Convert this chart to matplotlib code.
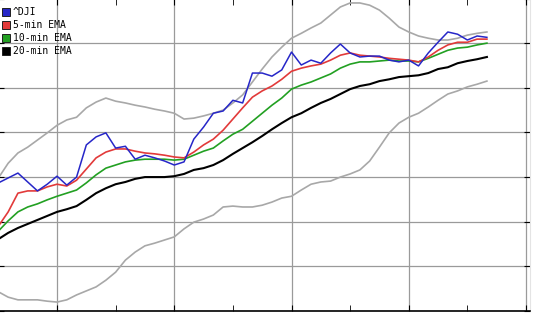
import matplotlib
matplotlib.use("Agg")
import matplotlib.pyplot as plt
import numpy as np
from matplotlib.lines import Line2D
from matplotlib.ticker import MultipleLocator

# 5-minute samples, minutes from the first hour mark
minutes = np.arange(-30, 221, 5)

# points above 10400
dji = [28.7, 29.8, 30.9, 28.9, 26.9, 28.4, 30.2, 28.2, 30.0, 37.2,
       39.0, 39.9, 36.5, 36.9, 34.0, 34.9, 34.3, 33.6, 32.7, 33.4,
       38.5, 41.2, 44.3, 44.8, 47.2, 46.6, 53.3, 53.3, 52.6, 54.0,
       58.0, 55.1, 56.2, 55.5, 57.8, 59.8, 57.8, 56.9, 57.1, 57.1,
       56.2, 55.8, 56.2, 54.9, 57.8, 60.2, 62.5, 62.0, 60.7, 61.6, 61.3]
ema5 = [19.0, 22.2, 26.4, 26.9, 26.9, 27.8, 28.4, 28.0, 29.3, 31.8,
        34.3, 35.6, 36.3, 36.3, 35.8, 35.4, 35.2, 34.9, 34.5, 34.3,
        35.6, 37.2, 38.5, 40.5, 43.0, 45.5, 47.9, 49.3, 50.4, 51.9,
        53.7, 54.4, 54.9, 55.3, 56.2, 57.3, 57.8, 57.3, 57.1, 56.9,
        56.6, 56.4, 56.2, 55.8, 56.9, 58.4, 59.6, 60.2, 60.2, 60.9, 60.9]
ema10 = [17.9, 20.2, 22.2, 23.3, 24.0, 24.9, 25.7, 26.4, 27.1, 28.7,
         30.5, 32.0, 32.7, 33.4, 33.8, 34.0, 34.0, 34.0, 33.8, 34.0,
         34.9, 35.8, 36.5, 38.1, 39.6, 40.7, 42.5, 44.3, 46.1, 47.7,
         49.7, 50.6, 51.3, 52.2, 53.1, 54.4, 55.3, 55.8, 55.8, 56.0,
         56.2, 56.0, 56.0, 55.8, 56.6, 57.5, 58.4, 58.9, 59.1, 59.6, 60.0]
ema20 = [16.1, 17.5, 18.6, 19.5, 20.4, 21.3, 22.2, 22.8, 23.5, 24.9,
         26.4, 27.5, 28.4, 28.9, 29.6, 30.0, 30.0, 30.0, 30.2, 30.7,
         31.6, 32.0, 32.7, 33.8, 35.2, 36.5, 37.8, 39.2, 40.7, 42.1,
         43.4, 44.3, 45.5, 46.6, 47.5, 48.6, 49.7, 50.4, 50.8, 51.5,
         51.9, 52.4, 52.6, 52.8, 53.3, 54.2, 54.6, 55.5, 56.0, 56.4, 56.9]
upper = [29.8, 33.1, 35.4, 36.7, 38.3, 39.9, 41.6, 42.8, 43.4, 45.5,
         46.8, 47.7, 47.0, 46.6, 46.1, 45.7, 45.2, 44.8, 44.3, 43.0,
         43.2, 43.7, 44.3, 45.0, 46.6, 48.4, 51.3, 54.2, 56.9, 59.1,
         61.1, 62.2, 63.4, 64.5, 66.3, 68.1, 69.0, 69.0, 68.5, 67.4,
         65.6, 63.6, 62.5, 61.6, 61.1, 60.7, 60.7, 61.1, 61.8, 62.2, 62.5]
lower = [4.3, 3.1, 2.5, 2.5, 2.5, 2.2, 2.0, 2.5, 3.6, 4.5,
         5.4, 6.9, 8.7, 11.4, 13.2, 14.6, 15.2, 15.9, 16.6, 18.4,
         19.9, 20.6, 21.5, 23.3, 23.5, 23.3, 23.3, 23.7, 24.4, 25.3,
         25.7, 27.1, 28.4, 28.9, 29.1, 30.0, 30.7, 31.6, 33.6, 36.7,
         39.9, 42.1, 43.4, 44.3, 45.7, 47.2, 48.6, 49.3, 50.2, 50.8, 51.5]

labels = ["^DJI", "5-min EMA", "10-min EMA", "20-min EMA"]
colors = ["#2626c8", "#e23a3a", "#22a022", "#000000"]

fig = plt.figure(figsize=(5.39, 3.18), dpi=100)
ax = fig.add_axes([-1.6 / 539, 7 / 318, 531.5 / 539, 312.5 / 318])

ax.plot(minutes, upper, color="#a8a8a8", lw=1.2)
ax.plot(minutes, lower, color="#a8a8a8", lw=1.2)
ax.plot(minutes, ema20, color=colors[3], lw=1.5)
ax.plot(minutes, ema10, color=colors[2], lw=1.2)
ax.plot(minutes, ema5, color=colors[1], lw=1.2)
ax.plot(minutes, dji, color=colors[0], lw=1.1)

ax.set_xlim(-30, 242)
ax.set_ylim(0, 70)
ax.xaxis.set_major_locator(MultipleLocator(60))
ax.xaxis.set_minor_locator(MultipleLocator(30))
ax.yaxis.set_major_locator(MultipleLocator(10))
ax.grid(True, which="major", color="#9a9a9a", lw=0.9)
ax.tick_params(which="both", direction="in", length=4, top=True, right=True,
               labelbottom=False, labelleft=False)
ax.spines["bottom"].set_linewidth(1.2)
ax.spines["right"].set_color("#e4e4e4")

handles = [Line2D([], [], ls="none", marker="s", markersize=5.2,
                  markerfacecolor=c, markeredgecolor="#202020", markeredgewidth=0.7)
           for c in colors]
fig.legend(handles, labels, loc="upper left", bbox_to_anchor=(3 / 539, 1 - 7 / 318),
           frameon=False, borderpad=0, borderaxespad=0, handlelength=0.7,
           handletextpad=0.3, labelspacing=0.32,
           prop={"family": "DejaVu Sans Mono", "size": 7})

fig.savefig("out.png", dpi=100)
